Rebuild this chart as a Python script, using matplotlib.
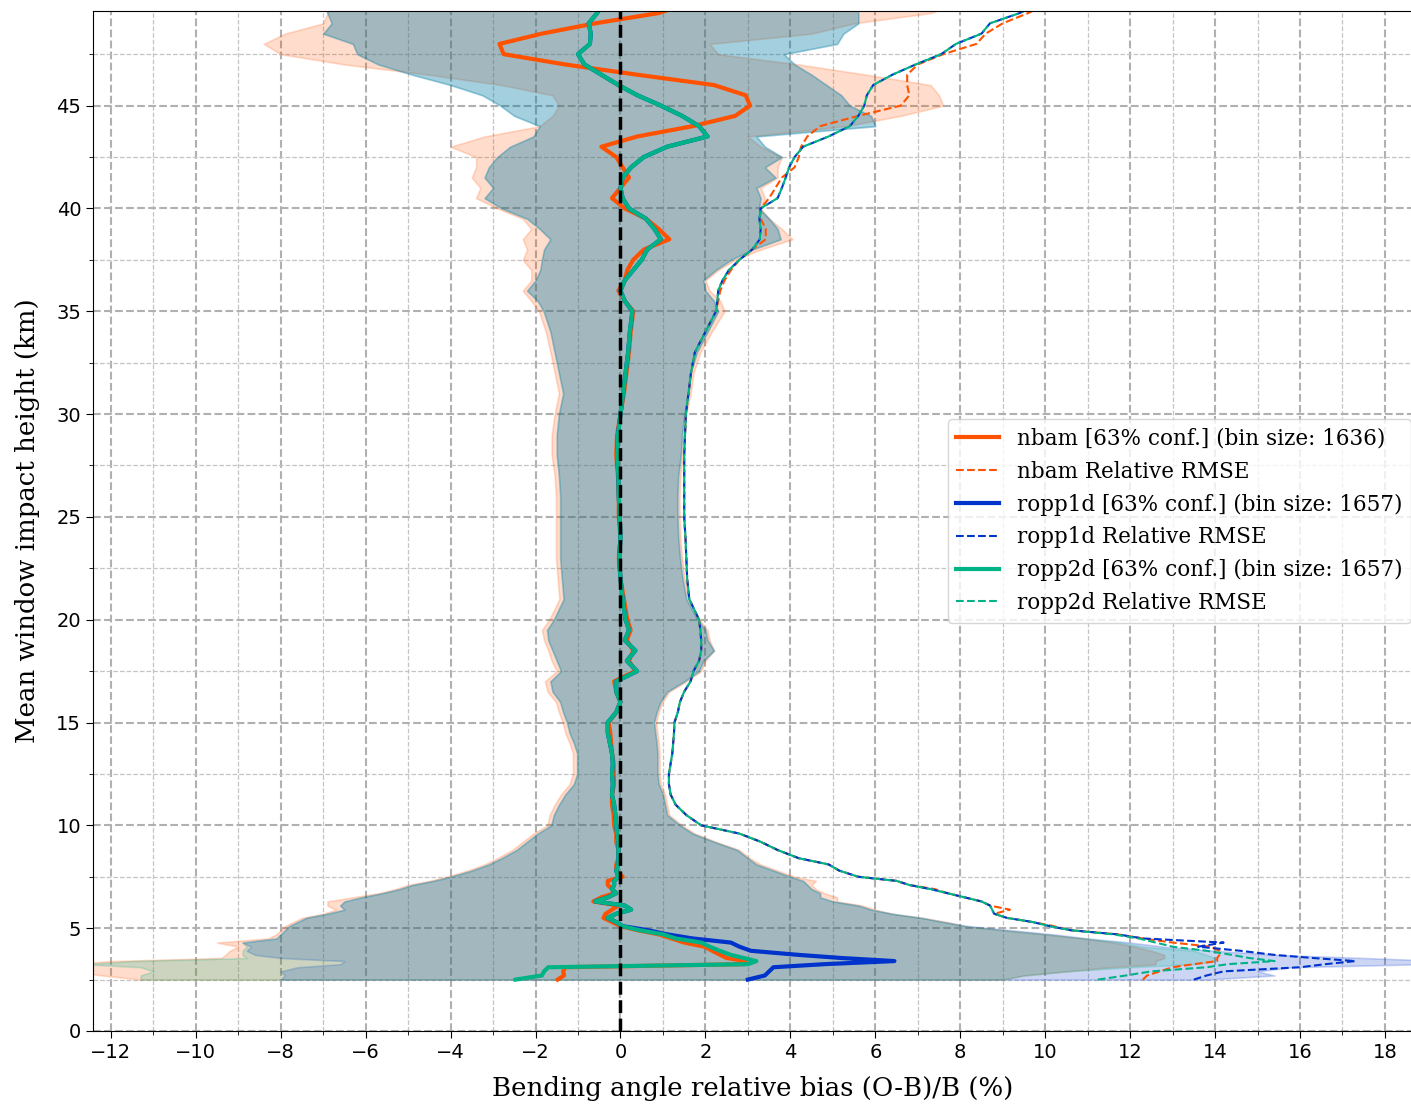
import matplotlib
matplotlib.use("Agg")
import matplotlib.pyplot as plt
from matplotlib.ticker import MultipleLocator

# mean window impact height (km)
heights = [2.5, 2.7, 2.9, 3.1, 3.25, 3.4, 3.55, 3.7, 3.9, 4.1, 4.3, 4.5, 4.7, 4.9, 5.1, 5.3, 5.5, 5.7, 5.9, 6.1, 6.3, 6.5, 6.7, 6.9, 7.1, 7.3, 7.5,
           7.8, 8.1, 8.4, 8.8, 9.2, 9.6, 10.0,
           10.5, 11.0, 11.5, 12.0, 12.5, 13.0, 13.5, 14.0, 14.5, 15.0, 15.5, 16.0, 16.5, 17.0, 17.5, 18.0, 18.5, 19.0, 19.5, 20.0,
           21, 22, 23, 24, 25, 26, 27, 28, 29, 30, 31, 32, 33, 34, 35,
           35.5, 36, 36.5, 37, 37.5, 38, 38.5, 39, 39.5, 40, 40.5, 41, 41.5, 42, 42.5, 43, 43.5, 44, 44.5, 45, 45.5, 46, 46.5, 47, 47.5, 48, 48.5, 49, 49.5, 50]

# ---- nbam ----
nbam_bias = [-1.48, -1.33, -1.35, -1.3, 2.9, 2.95, 2.5, 2.35, 2.16, 1.98, 1.5, 1.2, 0.9, 0.4, 0.0, -0.2, -0.4, -0.35, -0.2, -0.05, -0.64, -0.45, -0.15, -0.2, -0.3, -0.3, 0.05,
             -0.1, -0.1, -0.05, -0.05, -0.1, -0.1, -0.15,
             -0.16, -0.2, -0.2, -0.15, -0.16, -0.16, -0.2, -0.22, -0.24, -0.28, -0.1, 0.0, -0.1, -0.15, 0.35, 0.2, 0.3, 0.15, 0.24, 0.16,
             0.08, 0.0, -0.04, 0.0, -0.04, -0.04, -0.06, -0.1, -0.08, 0.0, 0.08, 0.14, 0.2, 0.24, 0.3,
             0.1, -0.05, 0.1, 0.16, 0.3, 0.55, 1.15, 0.9, 0.6, 0.1, -0.2, 0.0, 0.2, 0.05, -0.1, -0.45, 0.4, 1.7, 2.7, 3.05, 2.95, 2.2, 0.4, -1.3, -2.75, -2.85, -1.85, -0.6, 0.9, 1.6]
nbam_lo = [-11.3, -12.2, -13.0, -12.5, -13.0, -12.0, -9.4, -9.3, -9.2, -9.0, -9.5, -8.3, -8.1, -8.0, -7.9, -7.7, -7.5, -7.0, -6.7, -6.9, -6.9, -6.3, -5.7, -5.3, -5.0, -4.5, -4.1,
           -3.6, -3.2, -2.9, -2.55, -2.3, -2.05, -1.72,
           -1.67, -1.55, -1.4, -1.2, -1.12, -1.12, -1.12, -1.2, -1.3, -1.36, -1.45, -1.52, -1.72, -1.78, -1.5, -1.62, -1.7, -1.8, -1.85, -1.68,
           -1.44, -1.48, -1.52, -1.52, -1.52, -1.52, -1.55, -1.62, -1.62, -1.55, -1.45, -1.55, -1.65, -1.76, -1.92,
           -2.1, -2.3, -2.1, -2.1, -2.3, -2.2, -2.3, -2.1, -2.3, -2.9, -3.4, -3.3, -3.5, -3.4, -3.4, -4.0, -3.2, -1.9, -1.6, -1.45, -1.6, -2.8, -4.5, -6.5, -8.0, -8.4, -7.9, -7.0, -6.9, -7.0]
nbam_hi = [9.0, 9.5, 10.5, 11.5, 12.6, 12.6, 12.8, 12.8, 12.5, 12.1, 11.6, 10.9, 10.0, 9.0, 8.1, 7.7, 7.1, 6.4, 6.0, 5.7, 5.1, 5.1, 4.8, 4.6, 4.5, 4.6, 4.1,
           3.7, 3.3, 3.05, 2.8, 2.25, 1.75, 1.45,
           1.15, 1.1, 1.05, 0.95, 0.92, 0.92, 0.92, 0.9, 0.87, 0.84, 0.9, 0.99, 1.15, 1.55, 1.9, 2.0, 2.2, 2.1, 2.05, 1.86,
           1.6, 1.51, 1.45, 1.41, 1.39, 1.39, 1.41, 1.47, 1.5, 1.55, 1.65, 1.72, 1.88, 2.15, 2.45,
           2.35, 2.1, 2.0, 2.3, 2.7, 3.3, 4.05, 3.8, 3.5, 3.3, 3.4, 3.3, 3.7, 3.7, 3.8, 3.3, 3.0, 5.3, 6.6, 7.6, 7.5, 7.3, 5.8, 4.2, 2.3, 2.1, 4.5, 5.5, 7.3, 8.0]
nbam_rmse = [12.3, 12.4, 12.7, 13.0, 13.5, 14.05, 14.05, 14.1, 14.1, 13.9, 13.0, 12.3, 11.7, 10.6, 10.2, 9.7, 9.1, 8.8, 9.17, 8.7, 8.5, 8.1, 7.7, 7.4, 6.8, 6.5, 5.6,
             5.15, 4.9, 4.2, 3.7, 3.3, 2.8, 1.9,
             1.55, 1.3, 1.18, 1.14, 1.14, 1.18, 1.22, 1.24, 1.26, 1.27, 1.35, 1.4, 1.5, 1.65, 1.72, 1.85, 1.9, 1.9, 1.88, 1.85,
             1.62, 1.57, 1.55, 1.53, 1.5, 1.5, 1.5, 1.5, 1.52, 1.54, 1.6, 1.66, 1.75, 2.0, 2.25,
             2.3, 2.35, 2.45, 2.6, 2.8, 3.1, 3.42, 3.42, 3.3, 3.3, 3.5, 3.65, 3.8, 4.1, 4.2, 4.25, 4.4, 4.7, 5.6, 6.6, 6.8, 6.75, 6.75, 7.0, 7.6, 8.38, 8.6, 9.0, 9.6, 10.1]

# ---- ropp1d ----
ropp1d_bias = [3.0, 3.4, 3.5, 3.6, 4.8, 6.45, 5.2, 4.2, 3.07, 2.8, 2.6, 1.7, 1.1, 0.65, 0.05, -0.1, -0.3, -0.1, 0.25, 0.1, -0.6, -0.3, -0.1, -0.2, -0.15, -0.15, -0.05,
               -0.1, -0.05, -0.05, -0.05, -0.05, -0.08, -0.1,
               -0.12, -0.15, -0.2, -0.18, -0.2, -0.18, -0.2, -0.25, -0.3, -0.3, -0.1, 0.0, -0.1, -0.1, 0.39, 0.15, 0.35, 0.1, 0.2, 0.12,
               0.05, 0.0, -0.03, 0.0, -0.02, -0.04, -0.05, -0.08, -0.06, 0.0, 0.06, 0.12, 0.18, 0.22, 0.28,
               0.1, 0.0, 0.1, 0.3, 0.5, 0.63, 0.95, 0.8, 0.6, 0.2, 0.05, 0.0, 0.05, 0.25, 0.55, 1.1, 2.05, 1.85, 1.45, 0.95, 0.4, -0.05, -0.45, -0.85, -1.0, -0.72, -0.7, -0.75, -0.55, -0.45]
ropp1d_lo = [-8.0, -7.9, -8.0, -7.6, -6.6, -6.5, -8.0, -8.6, -8.8, -8.7, -8.9, -8.1, -8.0, -7.9, -7.8, -7.6, -7.4, -6.9, -6.5, -6.6, -6.5, -6.1, -5.6, -5.2, -4.9, -4.4, -4.0,
             -3.5, -3.1, -2.8, -2.45, -2.2, -1.95, -1.63,
             -1.57, -1.45, -1.3, -1.1, -1.02, -1.02, -1.02, -1.1, -1.2, -1.26, -1.35, -1.42, -1.6, -1.65, -1.4, -1.5, -1.6, -1.7, -1.73, -1.57,
             -1.34, -1.38, -1.42, -1.42, -1.42, -1.42, -1.45, -1.5, -1.5, -1.45, -1.35, -1.45, -1.55, -1.65, -1.81,
             -1.95, -2.2, -2.0, -1.89, -1.85, -1.8, -1.65, -1.9, -2.2, -2.8, -3.2, -3.0, -3.2, -3.1, -2.9, -2.6, -2.05, -1.9, -2.5, -2.83, -3.25, -4.0, -4.9, -5.7, -6.2, -6.3, -7.0, -6.8, -6.9, -7.0]
ropp1d_hi = [13.8, 15.4, 15.0, 15.8, 18.9, 19.5, 17.5, 15.5, 14.0, 12.8, 12.0, 11.0, 10.2, 9.2, 8.2, 7.6, 7.1, 6.4, 5.9, 5.6, 5.0, 4.7, 4.7, 4.5, 4.4, 4.3, 4.0,
             3.6, 3.2, 3.0, 2.75, 2.2, 1.7, 1.4,
             1.1, 1.05, 1.0, 0.9, 0.87, 0.87, 0.87, 0.85, 0.82, 0.79, 0.85, 0.94, 1.1, 1.5, 1.85, 1.95, 2.2, 2.05, 2.0, 1.81,
             1.55, 1.46, 1.4, 1.36, 1.34, 1.34, 1.36, 1.42, 1.45, 1.5, 1.6, 1.65, 1.8, 2.05, 2.3,
             2.2, 2.0, 1.95, 2.24, 2.6, 3.1, 3.77, 3.7, 3.5, 3.26, 3.3, 3.2, 3.65, 3.4, 3.8, 3.4, 3.2, 6.0, 5.9, 5.4, 5.2, 4.85, 4.5, 4.1, 3.85, 5.1, 5.25, 5.6, 5.6, 5.5]
ropp1d_rmse = [13.5, 13.8, 14.2, 16.0, 16.6, 17.3, 16.3, 15.4, 14.6, 13.6, 14.2, 12.3, 11.7, 10.6, 10.1, 9.7, 9.1, 8.8, 8.75, 8.7, 8.5, 8.1, 7.7, 7.3, 6.8, 6.5, 5.6,
               5.15, 4.9, 4.2, 3.7, 3.3, 2.8, 1.9,
               1.55, 1.3, 1.18, 1.14, 1.14, 1.18, 1.22, 1.24, 1.26, 1.27, 1.35, 1.4, 1.5, 1.65, 1.72, 1.85, 1.9, 1.9, 1.88, 1.85,
               1.62, 1.57, 1.55, 1.53, 1.5, 1.5, 1.5, 1.5, 1.52, 1.54, 1.6, 1.66, 1.75, 2.0, 2.25,
               2.28, 2.3, 2.4, 2.55, 2.8, 3.1, 3.28, 3.3, 3.27, 3.3, 3.7, 3.8, 3.89, 3.97, 4.1, 4.3, 4.9, 5.4, 5.6, 5.74, 5.8, 5.95, 6.4, 6.95, 7.55, 7.9, 8.5, 8.7, 9.4, 9.9]

# ---- ropp2d ----
ropp2d_bias = [-2.47, -1.85, -1.8, -1.7, 3.0, 3.2, 2.9, 2.6, 2.34, 2.1, 1.9, 1.3, 1.0, 0.45, 0.05, -0.1, -0.3, -0.1, 0.25, 0.1, -0.6, -0.3, -0.1, -0.2, -0.15, -0.15, -0.05,
               -0.1, -0.05, -0.05, -0.05, -0.05, -0.08, -0.1,
               -0.12, -0.15, -0.2, -0.18, -0.2, -0.18, -0.2, -0.25, -0.3, -0.3, -0.1, 0.0, -0.1, -0.1, 0.39, 0.15, 0.35, 0.1, 0.2, 0.12,
               0.05, 0.0, -0.03, 0.0, -0.02, -0.04, -0.05, -0.08, -0.06, 0.0, 0.06, 0.12, 0.18, 0.22, 0.28,
               0.1, 0.0, 0.1, 0.3, 0.5, 0.63, 0.95, 0.8, 0.6, 0.2, 0.05, 0.0, 0.05, 0.25, 0.55, 1.1, 2.05, 1.85, 1.45, 0.95, 0.4, -0.05, -0.45, -0.85, -1.0, -0.72, -0.7, -0.75, -0.55, -0.45]
ropp2d_lo = [-11.3, -11.3, -11.0, -11.3, -12.6, -11.5, -8.8, -8.9, -8.9, -8.8, -8.9, -8.1, -8.0, -7.9, -7.8, -7.6, -7.4, -6.9, -6.5, -6.6, -6.5, -6.1, -5.6, -5.2, -4.9, -4.4, -4.0,
             -3.5, -3.1, -2.8, -2.45, -2.2, -1.95, -1.63,
             -1.57, -1.45, -1.3, -1.1, -1.02, -1.02, -1.02, -1.1, -1.2, -1.26, -1.35, -1.42, -1.6, -1.65, -1.4, -1.5, -1.6, -1.7, -1.73, -1.57,
             -1.34, -1.38, -1.42, -1.42, -1.42, -1.42, -1.45, -1.5, -1.5, -1.45, -1.35, -1.45, -1.55, -1.65, -1.81,
             -1.95, -2.2, -2.0, -1.89, -1.85, -1.8, -1.65, -1.9, -2.2, -2.8, -3.2, -3.0, -3.2, -3.1, -2.9, -2.6, -2.05, -1.9, -2.5, -2.83, -3.25, -4.0, -4.9, -5.7, -6.2, -6.3, -7.0, -6.8, -6.9, -7.0]
ropp2d_hi = [9.0, 9.5, 10.5, 12.0, 13.5, 14.0, 14.0, 13.8, 13.5, 12.3, 11.8, 10.9, 10.0, 9.0, 8.1, 7.6, 7.1, 6.4, 5.9, 5.6, 5.0, 4.7, 4.7, 4.5, 4.4, 4.3, 4.0,
             3.6, 3.2, 3.0, 2.75, 2.2, 1.7, 1.4,
             1.1, 1.05, 1.0, 0.9, 0.87, 0.87, 0.87, 0.85, 0.82, 0.79, 0.85, 0.94, 1.1, 1.5, 1.85, 1.95, 2.2, 2.05, 2.0, 1.81,
             1.55, 1.46, 1.4, 1.36, 1.34, 1.34, 1.36, 1.42, 1.45, 1.5, 1.6, 1.65, 1.8, 2.05, 2.3,
             2.2, 2.0, 1.95, 2.24, 2.6, 3.1, 3.77, 3.7, 3.5, 3.26, 3.3, 3.2, 3.65, 3.4, 3.8, 3.4, 3.2, 6.0, 5.9, 5.4, 5.2, 4.85, 4.5, 4.1, 3.85, 5.1, 5.25, 5.6, 5.6, 5.5]
ropp2d_rmse = [11.24, 11.9, 12.5, 13.8, 14.3, 15.4, 14.8, 14.4, 13.8, 13.0, 12.6, 12.2, 11.6, 10.6, 10.1, 9.7, 9.1, 8.8, 8.75, 8.7, 8.5, 8.1, 7.7, 7.3, 6.8, 6.5, 5.6,
               5.15, 4.9, 4.2, 3.7, 3.3, 2.8, 1.9,
               1.55, 1.3, 1.18, 1.14, 1.14, 1.18, 1.22, 1.24, 1.26, 1.27, 1.35, 1.4, 1.5, 1.65, 1.72, 1.85, 1.9, 1.9, 1.88, 1.85,
               1.62, 1.57, 1.55, 1.53, 1.5, 1.5, 1.5, 1.5, 1.52, 1.54, 1.6, 1.66, 1.75, 2.0, 2.25,
               2.28, 2.3, 2.4, 2.55, 2.8, 3.1, 3.28, 3.3, 3.27, 3.3, 3.7, 3.8, 3.89, 3.97, 4.1, 4.3, 4.9, 5.4, 5.6, 5.74, 5.8, 5.95, 6.4, 6.95, 7.55, 7.9, 8.5, 8.7, 9.4, 9.9]

series = [
    ("nbam", 1636, "#ff5200", nbam_bias, nbam_lo, nbam_hi, nbam_rmse),
    ("ropp1d", 1657, "#0033cc", ropp1d_bias, ropp1d_lo, ropp1d_hi, ropp1d_rmse),
    ("ropp2d", 1657, "#00b386", ropp2d_bias, ropp2d_lo, ropp2d_hi, ropp2d_rmse),
]

SERIF = "DejaVu Serif"

fig = plt.figure(figsize=(14.11, 11.04), dpi=100)
ax = fig.add_axes([93 / 1411, 73 / 1104, 1320 / 1411, 1020 / 1104])

for name, nbin, color, bias, lo, hi, rmse in series:
    # confidence band, then mean bias and relative RMSE
    ax.fill_betweenx(heights, lo, hi, color=color, alpha=0.2, linewidth=1.2)
    ax.plot(bias, heights, color=color, linewidth=3,
            label=f"{name} [63% conf.] (bin size: {nbin})")
    ax.plot(rmse, heights, color=color, linewidth=1.5, linestyle="--",
            label=f"{name} Relative RMSE")

ax.axvline(0, color="black", linestyle="--", linewidth=2.5, zorder=5)

ax.set_xlim(-12.42, 18.66)
ax.set_ylim(0, 49.6)
ax.xaxis.set_major_locator(MultipleLocator(2))
ax.xaxis.set_minor_locator(MultipleLocator(1))
ax.yaxis.set_major_locator(MultipleLocator(5))
ax.yaxis.set_minor_locator(MultipleLocator(2.5))
ax.grid(which="major", linestyle="--", linewidth=1.5, color="#b0b0b0")
ax.grid(which="minor", linestyle="--", linewidth=0.9, color="#c4c4c4")
ax.set_axisbelow(True)
ax.tick_params(which="major", labelsize=14, length=5)
ax.tick_params(which="minor", length=3)

ax.set_xlabel("Bending angle relative bias (O-B)/B (%)", fontsize=18.7, family=SERIF, labelpad=10)
ax.set_ylabel("Mean window impact height (km)", fontsize=18.7, family=SERIF, labelpad=12)

ax.legend(loc="center right", bbox_to_anchor=(1.0, 0.5), borderaxespad=0.1,
          prop={"family": SERIF, "size": 15.5}, labelspacing=0.5)

fig.savefig("out.png", dpi=100)
